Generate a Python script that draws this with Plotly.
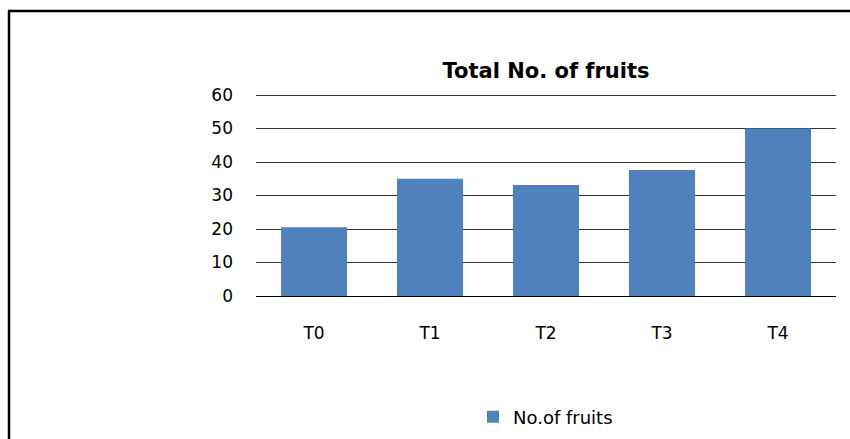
import plotly.graph_objects as go

categories = ["T0", "T1", "T2", "T3", "T4"]
values = [20.5, 35, 33.1, 37.6, 50]
series_name = "No.of fruits"
title_text = "Total No. of fruits"
y_ticks = [0, 10, 20, 30, 40, 50, 60]

fig = go.Figure()
fig.add_trace(go.Bar(x=categories, y=values, name=series_name,
                     marker=dict(color="#4F81BD", line=dict(width=0)),
                     showlegend=True))

L, R, T, B = 256, 14, 93, 143
W, H = 850, 439
ph = H - T - B
pw = W - L - R

def px_to_paper_x(px):
    return (px - L) / pw

def px_to_paper_y(py):
    return (H - B - py) / ph

font = "DejaVu Sans, sans-serif"

fig.update_layout(
    width=W, height=H,
    margin=dict(l=L, r=R, t=T, b=B, autoexpand=False),
    paper_bgcolor="white", plot_bgcolor="white",
    bargap=0.43,
    title=dict(text="<b>" + title_text + "</b>", x=0.5, xref="paper", xanchor="center",
               y=1 - 71 / H, yref="container", yanchor="middle",
               font=dict(family=font, size=21, color="#000000")),
    font=dict(family=font, size=17, color="#000000"),
    showlegend=True,
    legend=dict(orientation="h", x=px_to_paper_x(473), xanchor="left",
                y=px_to_paper_y(417), yanchor="middle",
                font=dict(family=font, size=18, color="#000000"),
                itemwidth=30),
    xaxis=dict(showgrid=False, showline=True, linecolor="#000000", linewidth=1,
               ticks="", ticklabelstandoff=22, zeroline=False,
               tickfont=dict(family=font, size=17)),
    yaxis=dict(range=[0, 60.6], tickvals=y_ticks, showgrid=True, gridcolor="#333333",
               gridwidth=1, zeroline=True, zerolinecolor="#000000", zerolinewidth=1,
               showline=False, ticks="", ticklabelstandoff=22,
               tickfont=dict(family=font, size=17)),
    shapes=[
        dict(type="line", xref="paper", yref="paper",
             x0=px_to_paper_x(8), x1=px_to_paper_x(852),
             y0=px_to_paper_y(11), y1=px_to_paper_y(11),
             line=dict(color="#000000", width=2.5)),
        dict(type="line", xref="paper", yref="paper",
             x0=px_to_paper_x(9), x1=px_to_paper_x(9),
             y0=px_to_paper_y(11), y1=px_to_paper_y(442),
             line=dict(color="#000000", width=2.5)),
    ],
)

fig.write_html("out.html", config={"displayModeBar": False},
               post_script="document.body.style.margin='0px';")
